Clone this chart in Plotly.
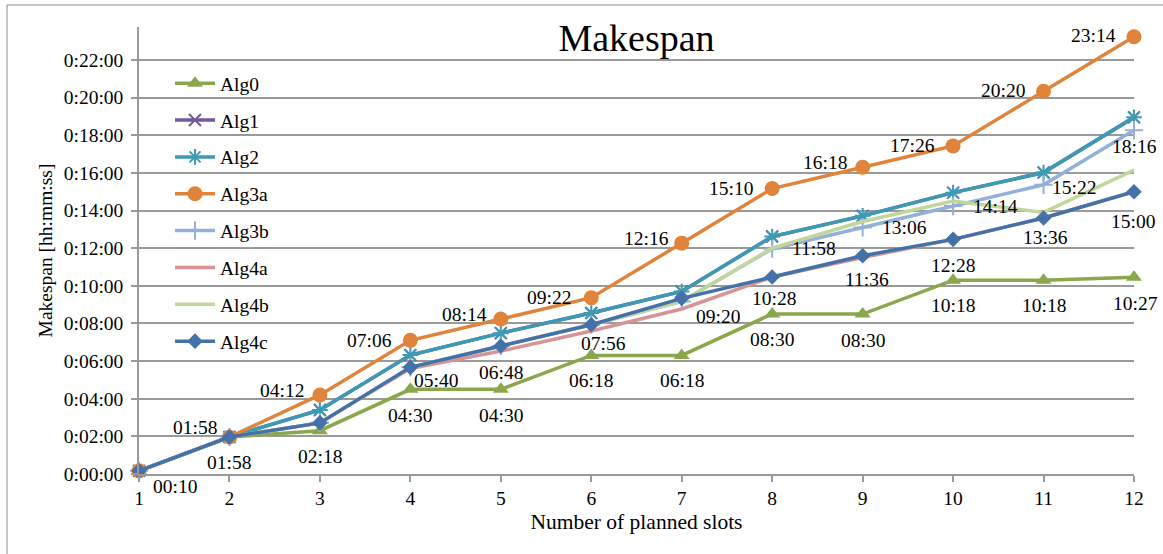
import plotly.graph_objects as go

# Number of planned slots (x axis)
slots = list(range(1, 13))

# Makespan per algorithm, as mm:ss
alg0 = ["00:10", "01:58", "02:18", "04:30", "04:30", "06:18", "06:18", "08:30", "08:30", "10:18", "10:18", "10:27"]
alg1 = ["00:10", "01:58", "03:24", "06:19", "07:29", "08:33", "09:42", "12:37", "13:43", "14:57", "16:01", "18:57"]
alg2 = ["00:10", "01:58", "03:24", "06:19", "07:29", "08:33", "09:42", "12:37", "13:43", "14:57", "16:01", "18:57"]
alg3a = ["00:10", "01:58", "04:12", "07:06", "08:14", "09:22", "12:16", "15:10", "16:18", "17:26", "20:20", "23:14"]
alg3b = ["00:10", "01:58", "02:43", "05:40", "06:48", "07:56", "09:10", "11:58", "13:06", "14:14", "15:22", "18:16"]
alg4a = ["00:10", "01:58", "02:43", "05:36", "06:32", "07:36", "08:46", "10:28", "11:30", "12:28", "13:36", "15:00"]
alg4b = ["00:10", "01:58", "02:43", "05:40", "06:48", "07:56", "09:10", "12:00", "13:25", "14:30", "13:54", "16:09"]
alg4c = ["00:10", "01:58", "02:43", "05:40", "06:48", "07:56", "09:20", "10:28", "11:36", "12:28", "13:36", "15:00"]

# y axis ticks (minutes) and their labels
y_tick_minutes = [0, 2, 4, 6, 8, 10, 12, 14, 16, 18, 20, 22]
y_tick_labels = ["0:00:00", "0:02:00", "0:04:00", "0:06:00", "0:08:00", "0:10:00",
                 "0:12:00", "0:14:00", "0:16:00", "0:18:00", "0:20:00", "0:22:00"]


def to_minutes(t):
    m, s = t.split(":")
    return int(m) + int(s) / 60.0


FONT = "'Liberation Serif', 'Times New Roman', 'DejaVu Serif', serif"
GRID = "#9a9a9a"

series = [
    ("Alg0", alg0, "#8aa74c", dict(symbol="triangle-up", size=14)),
    ("Alg1", alg1, "#725a9c", dict(symbol="x-thin-open", size=12, line=dict(width=2))),
    ("Alg2", alg2, "#3c9ab2", dict(symbol="asterisk-open", size=13, line=dict(width=2))),
    ("Alg3a", alg3a, "#e0843c", dict(symbol="circle", size=15)),
    ("Alg3b", alg3b, "#93b0d8", dict(symbol="cross-thin-open", size=13, line=dict(width=2))),
    ("Alg4a", alg4a, "#d69594", None),
    ("Alg4b", alg4b, "#c1d69c", None),
    ("Alg4c", alg4c, "#4471a8", dict(symbol="diamond", size=12)),
]

fig = go.Figure()
for name, vals, color, marker in series:
    kw = dict(mode="lines+markers", marker=dict(color=color, **marker)) if marker else dict(mode="lines")
    fig.add_trace(go.Scatter(
        x=slots, y=[to_minutes(v) for v in vals], name=name, legendgroup=name,
        line=dict(color=color, width=3.5), cliponaxis=False, **kw))

# Data labels: (slot, dx, dy) pixel offsets from each labelled point
label_offsets = {
    "Alg3a": [(2, -34, -9), (3, -38, -4), (4, -41, 0), (5, -36, -5), (6, -42, 0), (7, -35, -5),
              (8, -41, 0), (9, -38, -5), (10, -41, 0), (11, -41, -1), (12, -41, -1)],
    "Alg0": [(2, 0, 26), (3, 0, 26), (4, 0, 26), (5, 0, 26), (6, 0, 25), (7, 0, 25),
             (8, 0, 25), (9, 0, 26), (10, 0, 25), (11, 0, 25), (12, 1, 26)],
    "Alg4c": [(1, 36, 16), (4, 26, 13), (5, 0, 26), (6, 12, 19), (7, 36, 18), (8, 2, 21),
              (9, 4, 24), (10, 0, 26), (11, 2, 19), (12, -1, 30)],
    "Alg3b": [(8, 42, 0), (9, 42, 0), (10, 42, 0), (11, 30, 3), (12, 0, 16)],
}
values_by_name = {name: vals for name, vals, _, _ in series}
annotations = []
for name, offs in label_offsets.items():
    vals = values_by_name[name]
    for slot, dx, dy in offs:
        v = vals[slot - 1]
        annotations.append(dict(
            x=slot, y=to_minutes(v), text=v, showarrow=False, xshift=dx, yshift=-dy,
            xanchor="center", yanchor="middle", font=dict(family=FONT, size=19.5, color="black")))

fig.update_layout(
    width=1163, height=554,
    margin=dict(l=139, r=29, t=27, b=80),
    paper_bgcolor="white", plot_bgcolor="white",
    font=dict(family=FONT, size=19.5, color="black"),
    title=dict(text="Makespan", x=0.5, xref="paper", y=1 - 38 / 554, yref="container",
               xanchor="center", yanchor="middle", font=dict(family=FONT, size=38, color="black")),
    showlegend=True,
    legend=dict(x=(170 - 139) / 995, y=(474 - 64) / 447, xanchor="left", yanchor="top",
                bgcolor="rgba(0,0,0,0)", borderwidth=0, tracegroupgap=8.5, itemwidth=40,
                font=dict(family=FONT, size=19.5, color="black")),
    xaxis=dict(range=[1, 12], tickvals=slots, showgrid=False, zeroline=False,
               showline=True, linecolor=GRID, linewidth=1.5,
               ticks="outside", ticklen=6, tickcolor=GRID, tickwidth=1.5,
               title=dict(text="Number of planned slots", standoff=6,
                          font=dict(family=FONT, size=21.5, color="black"))),
    yaxis=dict(range=[0, 23.75], tickvals=y_tick_minutes, ticktext=y_tick_labels,
               showgrid=True, gridcolor=GRID, gridwidth=1.5, zeroline=False,
               showline=True, linecolor=GRID, linewidth=1.5,
               ticks="outside", ticklen=6, tickcolor=GRID, tickwidth=1.5, ticklabelstandoff=4,
               title=dict(text="Makespan [hh:mm:ss]", standoff=6,
                          font=dict(family=FONT, size=19.5, color="black"))),
    annotations=annotations,
    shapes=[dict(type="rect", xref="paper", yref="paper",
                 x0=(7 - 139) / 995, x1=(1175 - 139) / 995,
                 y0=(474 - 570) / 447, y1=(474 - 5) / 447,
                 line=dict(color="#8c8c8c", width=1), fillcolor="rgba(0,0,0,0)", layer="below")],
)

fig.write_html("out.html")
